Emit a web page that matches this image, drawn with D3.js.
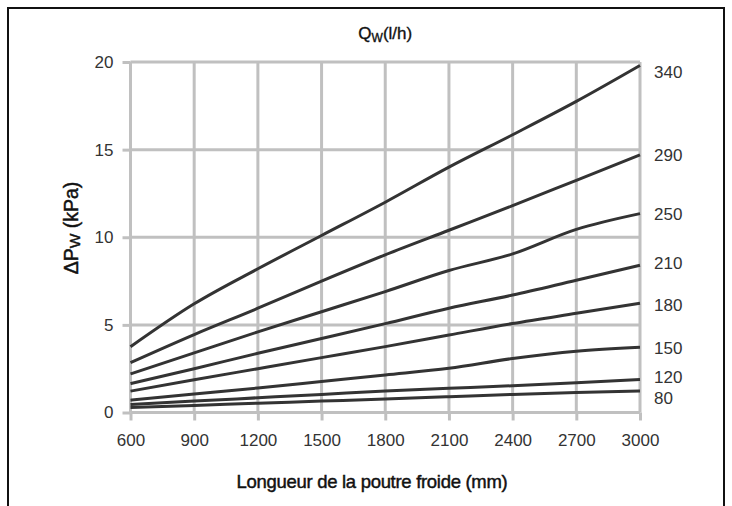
<!DOCTYPE html>
<html>
<head>
<meta charset="utf-8">
<script src="https://cdn.jsdelivr.net/npm/d3@7"></script>
<style>
  html, body { margin: 0; padding: 0; background: #fff; }
  svg { display: block; font-family: "Liberation Sans", Arial, sans-serif; }
</style>
</head>
<body>
<svg id="chart" width="732" height="506"></svg>
<script>
// ---- data ----
const lengths = [600, 900, 1200, 1500, 1800, 2100, 2400, 2700, 3000];
const yTicks = [0, 5, 10, 15, 20];
const flowLabels = ["340", "290", "250", "210", "180", "150", "120", "80"];
const q340 = [3.75, 6.2, 8.2, 10.1, 12.0, 14.0, 15.85, 17.75, 19.8];
const q290 = [2.85, 4.45, 5.95, 7.5, 9.0, 10.4, 11.8, 13.25, 14.7];
const q250 = [2.2, 3.4, 4.6, 5.75, 6.9, 8.1, 9.05, 10.45, 11.35];
const q210 = [1.65, 2.5, 3.38, 4.22, 5.07, 5.95, 6.7, 7.55, 8.4];
const q180 = [1.22, 1.87, 2.5, 3.13, 3.76, 4.42, 5.08, 5.66, 6.23];
const q150 = [0.7, 1.05, 1.4, 1.77, 2.14, 2.52, 3.08, 3.5, 3.72];
const q120 = [0.45, 0.65, 0.84, 1.03, 1.23, 1.38, 1.53, 1.7, 1.88];
const q80  = [0.28, 0.4, 0.53, 0.65, 0.77, 0.9, 1.03, 1.14, 1.23];
const seriesValues = [q340, q290, q250, q210, q180, q150, q120, q80];

// ---- layout ----
const svg = d3.select("#chart");
const x = d3.scaleLinear().domain([600, 3000]).range([130.5, 640]);
const y = d3.scaleLinear().domain([0, 20]).range([412.5, 62]);
const gridColor = "#c0c0c0";
const textColor = "#333";

// outer frame
svg.append("path")
  .attr("d", "M8,520 L8,8 L724,8 L724,520")
  .attr("fill", "none").attr("stroke", "#111").attr("stroke-width", 2);

// grid
const grid = svg.append("g");
grid.selectAll("line.h").data(yTicks).join("line")
  .attr("x1", x(600)).attr("x2", x(3000))
  .attr("y1", d => y(d)).attr("y2", d => y(d))
  .attr("stroke", gridColor).attr("stroke-width", 3);
grid.selectAll("line.v").data(lengths).join("line")
  .attr("y1", y(0)).attr("y2", y(20))
  .attr("x1", d => x(d)).attr("x2", d => x(d))
  .attr("stroke", gridColor).attr("stroke-width", 3);

// axes
const yAxis = svg.append("g").attr("transform", `translate(${x(600)},0)`)
  .call(d3.axisLeft(y).tickValues(yTicks).tickSize(8).tickPadding(9).tickFormat(d3.format("d")));
const xAxis = svg.append("g").attr("transform", `translate(0,${y(0)})`)
  .call(d3.axisBottom(x).tickValues(lengths).tickSize(8).tickPadding(13).tickFormat(d3.format("d")));
[yAxis, xAxis].forEach(g => {
  g.select(".domain").remove();
  g.selectAll(".tick line").attr("stroke", gridColor).attr("stroke-width", 3);
  g.selectAll(".tick text").attr("fill", textColor)
    .style("font-size", "17px").style("font-family", "'Liberation Sans', Arial, sans-serif");
});

// lines
const line = d3.line()
  .x((d, i) => x(lengths[i]))
  .y(d => y(d))
  .curve(d3.curveMonotoneX);
svg.append("g").selectAll("path").data(seriesValues).join("path")
  .attr("d", d => line(d))
  .attr("fill", "none").attr("stroke", "#333").attr("stroke-width", 3)
  .attr("stroke-linejoin", "round");

// right-hand flow labels
const labelNudge = [6.5, 0, 0, -2, 2, 0.5, -3, 7];
svg.append("g").selectAll("text").data(seriesValues).join("text")
  .attr("x", 654)
  .attr("y", (d, i) => y(d[d.length - 1]) + labelNudge[i])
  .attr("dy", "0.35em")
  .attr("fill", textColor).style("font-size", "17px")
  .text((d, i) => flowLabels[i]);

// title
const title = svg.append("text").attr("x", x(1800)).attr("y", 39)
  .attr("text-anchor", "middle").attr("fill", "#111")
  .attr("stroke", "#111").attr("stroke-width", 0.35)
  .style("font-size", "17px");
title.append("tspan").text("Q");
title.append("tspan").attr("dy", 3).style("font-size", "12px").text("W");
title.append("tspan").attr("dy", -3).text("(l/h)");

// y-axis title
const yt = svg.append("text")
  .attr("transform", `translate(78,228) rotate(-90)`)
  .attr("text-anchor", "middle").attr("fill", "#111")
  .attr("stroke", "#111").attr("stroke-width", 0.45)
  .style("font-size", "19.5px");
yt.append("tspan").text("ΔP");
yt.append("tspan").attr("dy", 2).style("font-size", "15.5px").text("W");
yt.append("tspan").attr("dy", -2).text(" (kPa)");

// x-axis title
svg.append("text").attr("x", 372).attr("y", 488)
  .attr("text-anchor", "middle").attr("fill", "#111")
  .attr("stroke", "#111").attr("stroke-width", 0.45)
  .style("font-size", "18.5px").style("letter-spacing", "-0.3px")
  .text("Longueur de la poutre froide (mm)");
</script>
</body>
</html>
